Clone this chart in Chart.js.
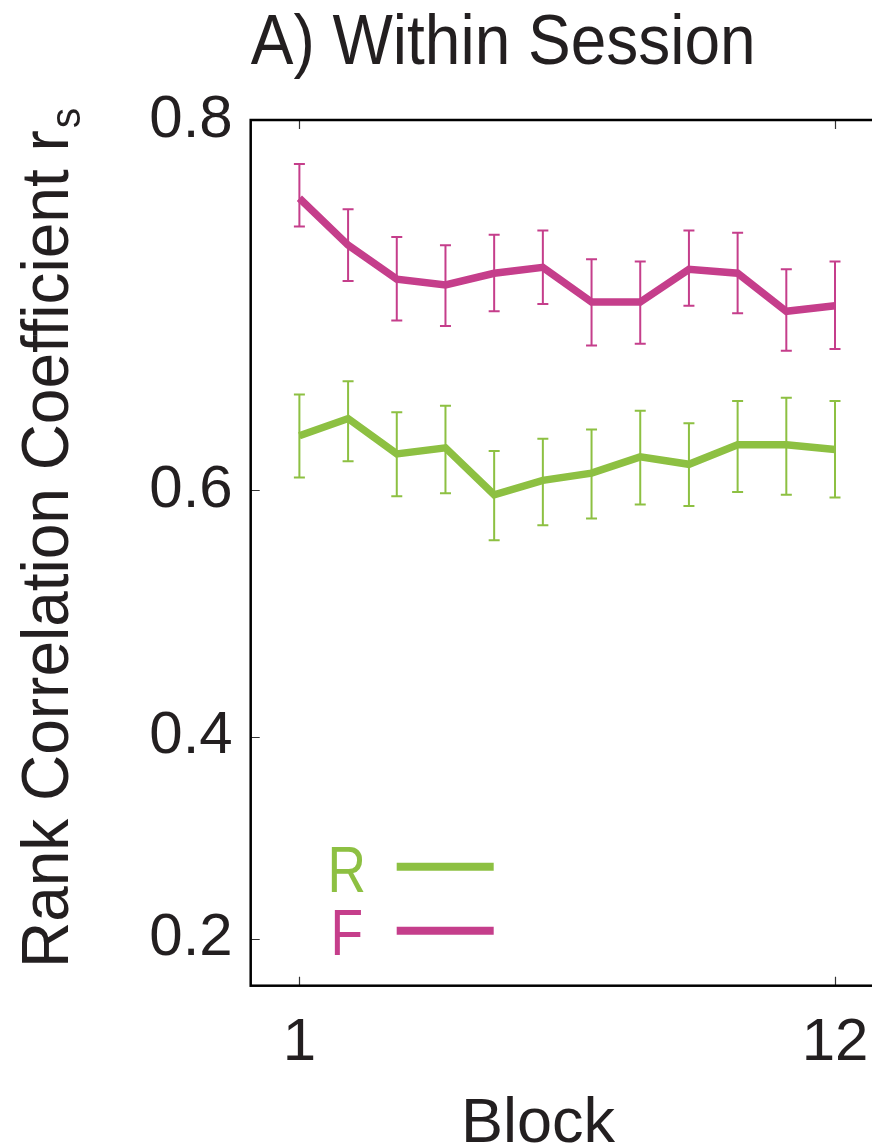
<!DOCTYPE html>
<html><head><meta charset="utf-8">
<script src="https://cdn.jsdelivr.net/npm/chart.js@4.4.1/dist/chart.umd.min.js"></script>
<style>
html,body{margin:0;padding:0;background:#fff;overflow:hidden;}
#wrap{position:relative;width:900px;height:1147px;}
</style></head><body>
<div id="wrap"><canvas id="c" width="900" height="1147"></canvas></div>
<script>
// ---- data (rank correlation coefficients) ----
const blocks = [1,2,3,4,5,6,7,8,9,10,11,12];
const seriesNames = ['R','F'];
const rMean = [0.637,0.648,0.625,0.629,0.597,0.607,0.612,0.623,0.618,0.631,0.631,0.628];
const rHi   = [0.663,0.671,0.652,0.656,0.627,0.635,0.641,0.653,0.645,0.659,0.661,0.659];
const rLo   = [0.609,0.620,0.596,0.598,0.564,0.575,0.580,0.590,0.589,0.599,0.597,0.595];
const fMean = [0.767,0.745,0.728,0.725,0.731,0.734,0.716,0.716,0.733,0.731,0.711,0.714];
const fHi   = [0.782,0.762,0.749,0.745,0.750,0.752,0.738,0.737,0.752,0.751,0.733,0.737];
const fLo   = [0.754,0.727,0.706,0.703,0.711,0.715,0.692,0.693,0.714,0.710,0.689,0.690];
const yTickValues = [0.2,0.4,0.6,0.8];
const xTickValues = [1,12];
const yRange = [0.15,0.8];
const xRange = [0,13];
const chartTitle = 'A) Within Session';
const xTitle = 'Block';
const yTitleMain = 'Rank Correlation Coefficient r';
const yTitleSub = 's';

const GREEN = 'rgb(141,192,66)';
const MAGENTA = 'rgb(197,62,139)';
const TEXT = '#231f20';
const FONT = '"Liberation Sans", Arial, sans-serif';
const fz = v => Math.atanh(v);   // Fisher z axis

function pts(arr){ return blocks.map((b,i)=>({x:b, y:fz(arr[i])})); }

const errorBars = {
  id:'errorBars',
  beforeDatasetsDraw(chart){
    const ctx = chart.ctx;
    chart.data.datasets.forEach((ds,di)=>{
      const meta = chart.getDatasetMeta(di);
      const xs = chart.scales[meta.xAxisID], ys = chart.scales[meta.yAxisID];
      ctx.save();
      ctx.strokeStyle = ds.borderColor; ctx.lineWidth = 2;
      ds.lo.forEach((lo,i)=>{
        const x = xs.getPixelForValue(blocks[i]);
        const y1 = ys.getPixelForValue(fz(lo)), y2 = ys.getPixelForValue(fz(ds.hi[i]));
        ctx.beginPath();
        ctx.moveTo(x,y1); ctx.lineTo(x,y2);
        ctx.moveTo(x-5.5,y1); ctx.lineTo(x+5.5,y1);
        ctx.moveTo(x-5.5,y2); ctx.lineTo(x+5.5,y2);
        ctx.stroke();
      });
      ctx.restore();
    });
  }
};

const frame = {
  id:'frame',
  afterDatasetsDraw(chart){
    const {ctx, chartArea:a, scales} = chart;
    ctx.save();
    ctx.strokeStyle = '#333'; ctx.lineWidth = 1.2;
    ctx.beginPath();
    scales.y.ticks.forEach(t=>{ const y = Math.round(scales.y.getPixelForValue(t.value))+0.5; ctx.moveTo(a.left,y); ctx.lineTo(a.left+9,y); });
    scales.x.ticks.forEach(t=>{ const x = Math.round(scales.x.getPixelForValue(t.value))+0.5; ctx.moveTo(x,a.bottom); ctx.lineTo(x,a.bottom-9); ctx.moveTo(x,a.top); ctx.lineTo(x,a.top+9); });
    ctx.stroke();
    ctx.strokeStyle = '#000'; ctx.lineWidth = 2.5;
    ctx.strokeRect(a.left, a.top, a.right-a.left, a.bottom-a.top);
    ctx.restore();
  }
};

// titles and legend
const texts = {
  id:'texts',
  afterDraw(chart){
    const {ctx, chartArea:a} = chart;
    // chart title (condensed look)
    ctx.save();
    ctx.fillStyle = TEXT;
    ctx.font = '70px ' + FONT;
    ctx.textAlign = 'left'; ctx.textBaseline = 'alphabetic';
    const tw = ctx.measureText(chartTitle).width;
    ctx.translate(a.left, 64);
    ctx.scale(505/tw, 1);
    ctx.fillText(chartTitle, 0, 0);
    ctx.restore();

    // x-axis title
    ctx.save();
    ctx.fillStyle = TEXT;
    ctx.font = '63px ' + FONT;
    ctx.textAlign = 'center'; ctx.textBaseline = 'alphabetic';
    ctx.fillText(xTitle, 538, 1142);
    ctx.restore();

    // y-axis title with subscript
    ctx.save();
    ctx.fillStyle = TEXT;
    ctx.font = '66px ' + FONT;
    const w1 = ctx.measureText(yTitleMain).width;
    ctx.font = '42px ' + FONT;
    const w2 = ctx.measureText(yTitleSub).width;
    const total = w1 + w2 + 2;
    ctx.translate(68, 538);
    ctx.rotate(-Math.PI/2);
    ctx.scale(860/total, 1);
    ctx.textAlign = 'left'; ctx.textBaseline = 'alphabetic';
    ctx.font = '66px ' + FONT;
    ctx.fillText(yTitleMain, -total/2, 0);
    ctx.font = '42px ' + FONT;
    ctx.fillText(yTitleSub, -total/2 + w1 + 2, 12);
    ctx.restore();

    // legend
    chart.data.datasets.forEach((ds,i)=>{
      const base = a.top + 771.7 + i*63.5;
      const ly = a.top + 746.7 + i*64;
      ctx.save();
      ctx.fillStyle = ds.borderColor;
      ctx.font = '65px ' + FONT;
      ctx.textAlign = 'center'; ctx.textBaseline = 'alphabetic';
      ctx.translate(a.left + 96, base);
      ctx.scale(0.82, 1);
      ctx.fillText(ds.label, 0, 0);
      ctx.restore();
      ctx.save();
      ctx.strokeStyle = ds.borderColor; ctx.lineWidth = 8;
      ctx.beginPath(); ctx.moveTo(a.left+146, ly); ctx.lineTo(a.left+243, ly); ctx.stroke();
      ctx.restore();
    });
  }
};

new Chart(document.getElementById('c'), {
  type:'line',
  data:{
    datasets:[
      {label:seriesNames[0], data:pts(rMean), lo:rLo, hi:rHi, borderColor:GREEN, backgroundColor:GREEN, borderWidth:7.5, pointRadius:0, tension:0, borderJoinStyle:'miter', fill:false},
      {label:seriesNames[1], data:pts(fMean), lo:fLo, hi:fHi, borderColor:MAGENTA, backgroundColor:MAGENTA, borderWidth:7.5, pointRadius:0, tension:0, borderJoinStyle:'miter', fill:false}
    ]
  },
  options:{
    responsive:false, animation:false, devicePixelRatio:1,
    layout:{padding:{left:0, right:16.3, top:120, bottom:0}},
    plugins:{ legend:{display:false}, tooltip:{enabled:false}, title:{display:false} },
    scales:{
      x:{type:'linear', min:xRange[0], max:xRange[1],
        grid:{display:false, drawTicks:false}, border:{display:false},
        afterBuildTicks(ax){ ax.ticks = xTickValues.map(v=>({value:v})); },
        afterFit(ax){ ax.height = 161.3; },
        ticks:{color:TEXT, padding:22, maxRotation:0, autoSkip:false, font:{family:FONT, size:60}, callback:v=>String(v)},
        title:{display:false}
      },
      y:{type:'linear', min:fz(yRange[0]), max:fz(yRange[1]),
        grid:{display:false, drawTicks:false}, border:{display:false},
        afterBuildTicks(ax){ ax.ticks = yTickValues.map(v=>({value:fz(v)})); },
        afterFit(ax){ ax.width = 250.7; },
        ticks:{color:TEXT, padding:18, autoSkip:false, font:{family:FONT, size:60}, callback:v=>Math.tanh(v).toFixed(1)}
      }
    }
  },
  plugins:[errorBars, frame, texts]
});
</script>
</body></html>
